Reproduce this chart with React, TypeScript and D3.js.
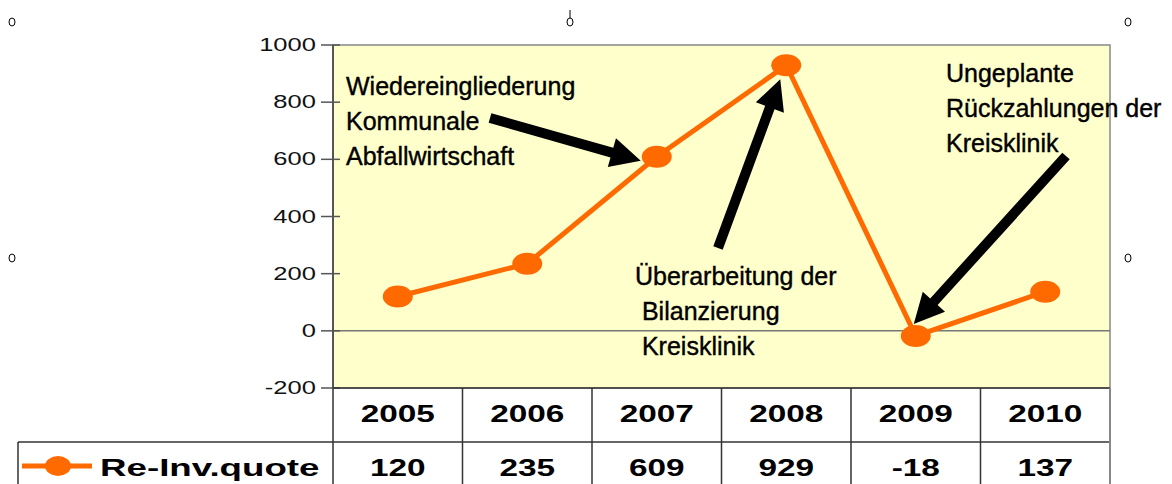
import React from 'react';
import * as d3 from 'd3';

const years = ['2005', '2006', '2007', '2008', '2009', '2010'];
const reInvQuote = [120, 235, 609, 929, -18, 137];
const yTicks = [-200, 0, 200, 400, 600, 800, 1000];
const seriesName = 'Re-Inv.quote';

const notes = [
  { lines: ['Wiedereingliederung', 'Kommunale', 'Abfallwirtschaft'], target: '2007' },
  { lines: ['Überarbeitung der', ' Bilanzierung', ' Kreisklinik'], target: '2008' },
  { lines: ['Ungeplante', 'Rückzahlungen der', 'Kreisklinik'], target: '2009' },
];

const W = 1172;
const H = 484;
const orange = '#ff6a00';
const font = 'Liberation Sans, Arial, sans-serif';

// the chart was stretched sideways in the original, the text boxes were not
const stretchTick = 1.42;
const stretchBold = 1.45;
const stretchLegend = 1.53;

const App: React.FC = () => {
  const x = d3.scaleBand<string>().domain(years).range([333, 1110]);
  const y = d3.scaleLinear().domain([-200, 1000]).range([388, 45]);
  const cx = (yr: string) => (x(yr) ?? 0) + x.bandwidth() / 2;

  const line = d3
    .line<number>()
    .x((_, i) => cx(years[i]))
    .y((d) => y(d));

  const rowTop = 388;
  const rowMid = 442;
  const rowBottom = 500;

  // arrow tails are layout; heads point at the data markers
  const arrows = [
    { from: [490, 118], to: [cx('2007') - 16, y(reInvQuote[2]) + 4] },
    { from: [718, 248], to: [cx('2008') - 6, y(reInvQuote[3]) + 14] },
    { from: [1066, 156], to: [cx('2009') - 2, y(reInvQuote[4]) - 12] },
  ];

  const arrowPath = (from: number[], to: number[]) => {
    const dx = to[0] - from[0];
    const dy = to[1] - from[1];
    const len = Math.hypot(dx, dy);
    const ux = dx / len;
    const uy = dy / len;
    const headLen = 30;
    const headW = 15;
    const shaftW = 5;
    const bx = to[0] - ux * headLen;
    const by = to[1] - uy * headLen;
    const px = -uy;
    const py = ux;
    const p = d3.path();
    p.moveTo(from[0] + px * shaftW, from[1] + py * shaftW);
    p.lineTo(bx + px * shaftW, by + py * shaftW);
    p.lineTo(bx + px * headW, by + py * headW);
    p.lineTo(to[0], to[1]);
    p.lineTo(bx - px * headW, by - py * headW);
    p.lineTo(bx - px * shaftW, by - py * shaftW);
    p.lineTo(from[0] - px * shaftW, from[1] - py * shaftW);
    p.closePath();
    return p.toString();
  };

  const notePos = [
    { x: 346, y: 95 },
    { x: 635, y: 285 },
    { x: 946, y: 82 },
  ];

  const handles = [
    [12, 22],
    [570, 22],
    [1128, 22],
    [12, 258],
    [1128, 258],
  ];

  return (
    <svg width={W} height={H} style={{ position: 'absolute', left: 0, top: 0, background: '#fff' }}>
      {/* plot area */}
      <rect x={333} y={45} width={777} height={343} fill="#ffffcc" stroke="#888" strokeWidth={1.5} />
      <line x1={333} x2={1110} y1={y(0)} y2={y(0)} stroke="#777" strokeWidth={1.5} />
      <line x1={333} x2={333} y1={45} y2={388} stroke="#555" strokeWidth={2} />

      {/* y axis */}
      {yTicks.map((t) => (
        <g key={t}>
          <line x1={321} x2={340} y1={y(t)} y2={y(t)} stroke="#555" strokeWidth={1.5} />
          <text
            transform={`translate(316,${y(t) + 6}) scale(${stretchTick},1)`}
            textAnchor="end"
            fontFamily={font}
            fontSize={18}
            fill="#111"
          >
            {t}
          </text>
        </g>
      ))}

      {/* data table */}
      <g stroke="#333" strokeWidth={1.5} fill="none">
        <line x1={333} x2={1110} y1={rowTop} y2={rowTop} />
        <line x1={18} x2={1110} y1={rowMid} y2={rowMid} />
        <line x1={18} x2={18} y1={rowMid} y2={rowBottom} />
        {years.map((yr) => (
          <line key={yr} x1={x(yr)} x2={x(yr)} y1={rowTop} y2={rowBottom} />
        ))}
        <line x1={1110} x2={1110} y1={rowTop} y2={rowBottom} stroke="#888" strokeWidth={2} />
      </g>
      {years.map((yr, i) => (
        <g key={yr} fontFamily={font} fontWeight="bold" fontSize={23} textAnchor="middle" fill="#000">
          <text transform={`translate(${cx(yr)},422) scale(${stretchBold},1)`}>{yr}</text>
          <text transform={`translate(${cx(yr)},476) scale(${stretchBold},1)`}>{reInvQuote[i]}</text>
        </g>
      ))}
      <line x1={22} x2={92} y1={466} y2={466} stroke={orange} strokeWidth={5} />
      <ellipse cx={58} cy={466} rx={13} ry={10} fill={orange} />
      <text
        transform={`translate(100,476) scale(${stretchLegend},1)`}
        fontFamily={font}
        fontWeight="bold"
        fontSize={24}
        fill="#000"
      >
        {seriesName}
      </text>

      {/* series */}
      <path d={line(reInvQuote) ?? ''} fill="none" stroke={orange} strokeWidth={5} />
      {reInvQuote.map((v, i) => (
        <ellipse key={i} cx={cx(years[i])} cy={y(v)} rx={15} ry={11} fill={orange} />
      ))}

      {/* annotations */}
      {arrows.map((a, i) => (
        <path key={i} d={arrowPath(a.from, a.to)} fill="#000" />
      ))}
      {notes.map((n, i) => (
        <text
          key={i}
          fontFamily={font}
          fontSize={25}
          fill="#000"
          stroke="#000"
          strokeWidth={0.4}
          style={{ whiteSpace: 'pre' }}
        >
          {n.lines.map((l, j) => (
            <tspan key={j} x={notePos[i].x} y={notePos[i].y + j * 35}>
              {l}
            </tspan>
          ))}
        </text>
      ))}

      {/* selection handles */}
      <line x1={570} x2={570} y1={10} y2={18} stroke="#000" strokeWidth={1} />
      {handles.map((h, i) => (
        <ellipse key={i} cx={h[0]} cy={h[1]} rx={3} ry={4} fill="#fff" stroke="#000" strokeWidth={1} />
      ))}
    </svg>
  );
};

export default App;
